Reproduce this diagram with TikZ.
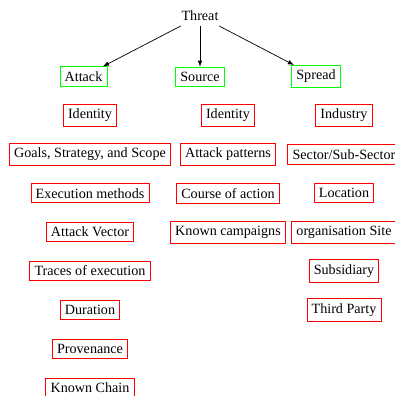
\documentclass[tikz,border=0pt]{standalone}
\usepackage{fontspec}
\setmainfont{Liberation Serif}
\begin{document}
\begin{tikzpicture}[x=0.708pt,y=-0.708pt,
  every node/.style={font=\fontsize{10}{12}\selectfont, inner sep=3.33pt},
  catbox/.style={draw=green, line width=0.6pt},
  itembox/.style={draw=red, line width=0.6pt},
  link/.style={-latex, line width=0.5pt}]
\clip (0,0) rectangle (395,396);
\node (threat) at (200,16) {Threat};
\node[catbox] (attack) at (83.5,76.5) {Attack};
\node[catbox] (source) at (200,76.5) {Source};
\node[catbox] (spread) at (316,76.5) {Spread};
\draw[link] (threat) -- (attack);
\draw[link] (threat) -- (source);
\draw[link] (threat) -- (spread);
% Attack column
\node[itembox] (a1) at (90,115.4) {Identity};
\node[itembox] (a2) at (90,154.3) {Goals, Strategy, and Scope};
\node[itembox] (a3) at (90,193.2) {Execution methods};
\node[itembox] (a4) at (90,232.1) {Attack Vector};
\node[itembox] (a5) at (90,271) {Traces of execution};
\node[itembox] (a6) at (90,309.9) {Duration};
\node[itembox] (a7) at (90,348.8) {Provenance};
\node[itembox] (a8) at (90,387.7) {Known Chain};
% Source column
\node[itembox] (s1) at (228,115.4) {Identity};
\node[itembox] (s2) at (228,154.3) {Attack patterns};
\node[itembox] (s3) at (228,193.2) {Course of action};
\node[itembox] (s4) at (228,232.1) {Known campaigns};
% Spread column
\node[itembox] (p1) at (344,115.4) {Industry};
\node[itembox] (p2) at (344,154.3) {Sector/Sub-Sector};
\node[itembox] (p3) at (344,193.2) {Location};
\node[itembox] (p4) at (344,232.1) {organisation Site};
\node[itembox] (p5) at (344,271) {Subsidiary};
\node[itembox] (p6) at (344,309.9) {Third Party};
\end{tikzpicture}
\end{document}
